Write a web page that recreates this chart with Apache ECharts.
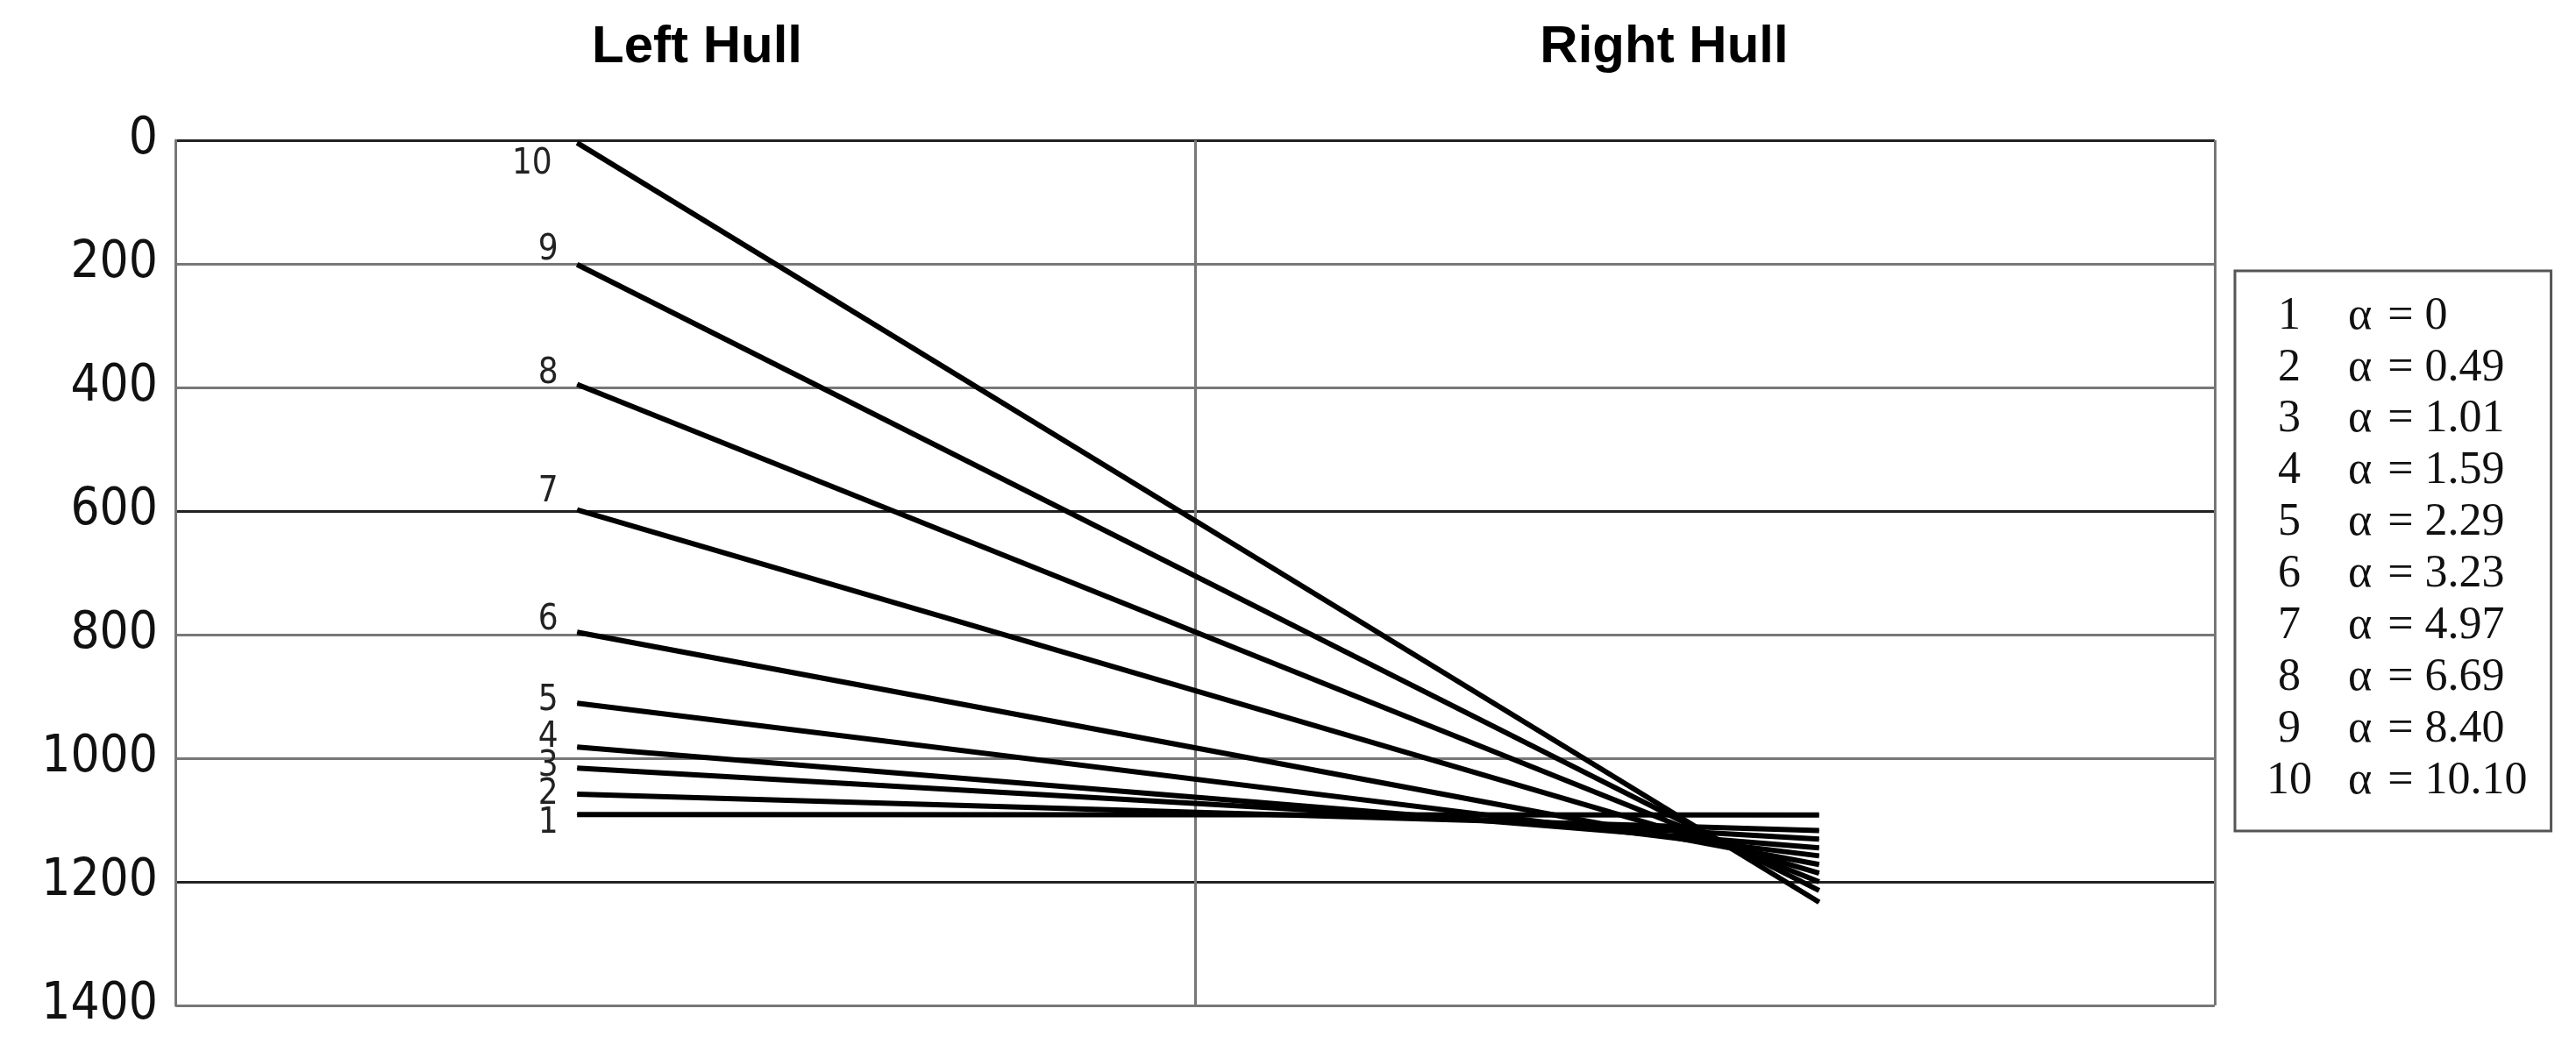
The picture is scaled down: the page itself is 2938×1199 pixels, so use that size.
<!DOCTYPE html>
<html><head><meta charset="utf-8">
<script src="https://cdn.jsdelivr.net/npm/echarts@6/dist/echarts.min.js"></script>
<style>html,body{margin:0;padding:0;background:#fff}#c{width:2938px;height:1199px}</style>
</head><body><div id="c"></div>
<script>
// ---- data ----
const lineIds = ['1','2','3','4','5','6','7','8','9','10'];
const alphas = ['0','0.49','1.01','1.59','2.29','3.23','4.97','6.69','8.40','10.10'];
const hullX = [1.97, 8.06];              // x positions of the left-hull and right-hull ends
const leftHullY = [1091,1058,1016,982,911,796,598,395,201,4];
const rightHullY = [1092,1117,1131,1145,1158,1172,1186,1200,1214,1233];
const yTicks = [0,200,400,600,800,1000,1200,1400];
const panelTitles = ['Left Hull','Right Hull'];

// ---- styling ----
const labelDy = [10,1,-2,-11,-3,-14,-20,-12,-16,25];
const labelDist = [21,21,21,21,21,21,21,21,21,28];
const narrow = "'Liberation Sans Narrow', 'DejaVu Sans Condensed', 'Liberation Sans'";
const serif = "'Liberation Serif', 'DejaVu Serif', serif";

const chart = echarts.init(document.getElementById('c'));
const series = lineIds.map((id, i) => ({
  name: id,
  type: 'line',
  symbol: 'circle',
  symbolSize: 1,
  showSymbol: true,
  itemStyle: {color: '#000'},
  lineStyle: {color: '#000', width: 6},
  emphasis: {disabled: true},
  animation: false,
  data: [
    {value: [hullX[0], leftHullY[i]],
     label: {show: true, position: 'left', distance: labelDist[i], offset: [0, labelDy[i]],
             formatter: id, fontSize: 40, color: '#222', fontFamily: narrow}},
    {value: [hullX[1], rightHullY[i]]}
  ]
}));

chart.setOption({
  backgroundColor: '#fff',
  animation: false,
  title: [
    {text: panelTitles[0], left: 790, top: 19, textAlign: 'center',
     textStyle: {fontSize: 60, fontWeight: 'bold', color: '#000', fontFamily: 'Liberation Sans'}},
    {text: panelTitles[1], left: 1893, top: 19, textAlign: 'center',
     textStyle: {fontSize: 60, fontWeight: 'bold', color: '#000', fontFamily: 'Liberation Sans'}}
  ],
  grid: {left: 200, right: 412, top: 160, bottom: 52},
  xAxis: {
    type: 'value', min: 0, max: 10, interval: 5,
    axisLabel: {show: false}, axisTick: {show: false}, axisLine: {show: false},
    splitLine: {show: true, lineStyle: {color: '#777', width: 3}}
  },
  yAxis: {
    type: 'value', inverse: true, min: yTicks[0], max: yTicks[yTicks.length-1], interval: 200,
    axisLabel: {fontSize: 58, color: '#111', margin: 20, fontFamily: narrow,
                formatter: v => String(v)},
    axisTick: {show: false},
    axisLine: {show: true, lineStyle: {color: '#777', width: 3}},
    splitLine: {show: true, lineStyle: {color: ['#222','#777','#777','#222','#777','#777','#222','#777'], width: 3}}
  },
  legend: {
    orient: 'vertical', left: 2549, top: 309,
    selectedMode: false,
    icon: 'none', itemWidth: 0, itemHeight: 0, itemGap: 6.9,
    padding: [26, 27, 31, 33],
    borderColor: '#555', borderWidth: 3,
    data: lineIds,
    formatter: name => `{n|${name}}{a|α}{e|=}{v|${alphas[lineIds.indexOf(name)]}}`,
    textStyle: {
      color: '#111',
      rich: {
        n: {width: 48, align: 'right', fontSize: 52, lineHeight: 52, fontFamily: serif, color: '#111'},
        a: {fontSize: 52, lineHeight: 52, fontFamily: serif, color: '#111', padding: [0, 0, 0, 43]},
        e: {fontSize: 52, lineHeight: 52, fontFamily: serif, color: '#111', padding: [0, 0, 0, 18]},
        v: {fontSize: 52, lineHeight: 52, fontFamily: serif, color: '#111', padding: [0, 0, 0, 13]}
      }
    }
  },
  series: series
});
</script></body></html>
